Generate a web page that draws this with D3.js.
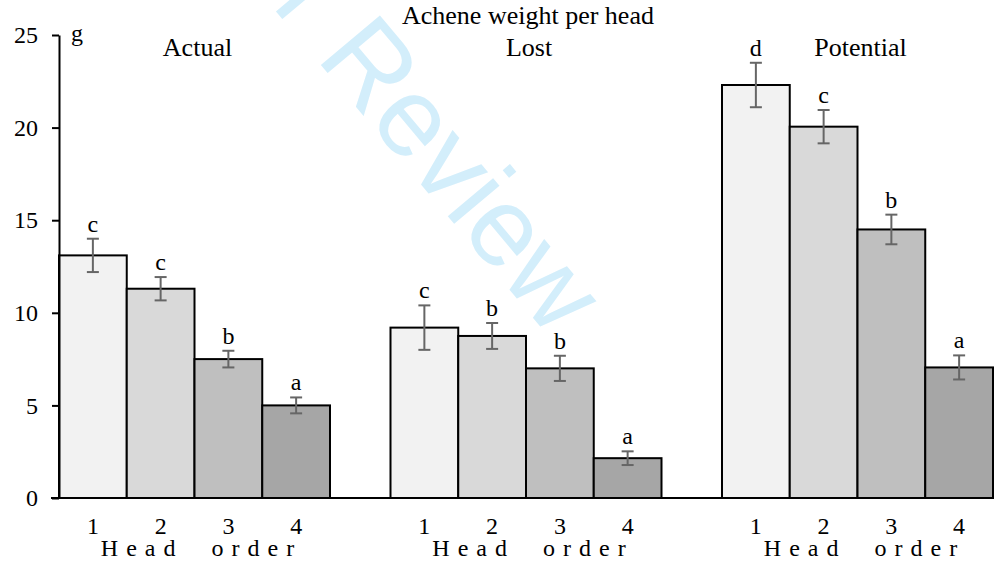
<!DOCTYPE html>
<html>
<head>
<meta charset="utf-8">
<script src="https://cdn.jsdelivr.net/npm/d3@7"></script>
<style>
  html, body { margin: 0; padding: 0; background: #fff; }
  svg { display: block; }
  text { font-family: "Liberation Serif", "Times New Roman", serif; fill: #000; }
</style>
</head>
<body>
<svg id="chart" width="1006" height="567"></svg>
<script>
// ---- data ----
const groups = ["Actual", "Lost", "Potential"];
const headOrders = ["1", "2", "3", "4"];
const actualMeans = [13.1, 11.3, 7.5, 5.0];
const actualErr = [0.9, 0.63, 0.45, 0.43];
const actualLetters = ["c", "c", "b", "a"];
const lostMeans = [9.2, 8.75, 7.0, 2.15];
const lostErr = [1.2, 0.7, 0.68, 0.37];
const lostLetters = ["c", "b", "b", "a"];
const potentialMeans = [22.3, 20.05, 14.5, 7.05];
const potentialErr = [1.2, 0.9, 0.8, 0.65];
const potentialLetters = ["d", "c", "b", "a"];
const yTicks = [0, 5, 10, 15, 20, 25];
const barColors = ["#f2f2f2", "#d9d9d9", "#bfbfbf", "#a6a6a6"];
const chartTitle = "Achene weight per head";
const unitLabel = "g";
const xAxisTitle = "Head  order";

const seriesByGroup = {
  Actual: { means: actualMeans, err: actualErr, letters: actualLetters },
  Lost: { means: lostMeans, err: lostErr, letters: lostLetters },
  Potential: { means: potentialMeans, err: potentialErr, letters: potentialLetters }
};
const rows = [];
groups.forEach(g => {
  const s = seriesByGroup[g];
  headOrders.forEach((h, i) => rows.push({ group: g, order: h, idx: i, mean: s.means[i], err: s.err[i], letter: s.letters[i] }));
});

// ---- layout ----
const svg = d3.select("#chart");
const y = d3.scaleLinear().domain([0, 25]).range([498, 35]);
const x0 = d3.scaleBand().domain(groups).range([59, 993]).paddingInner(0.1825).paddingOuter(0);
const x1 = d3.scaleBand().domain(headOrders).range([0, x0.bandwidth()]).padding(0);

// ---- watermark ----
const wm = svg.append("g").attr("transform", "translate(315,58) rotate(50)");
wm.append("text").attr("x", 0).attr("y", 0)
  .style("font-family", "'Liberation Sans', Arial, sans-serif").style("font-size", "112px")
  .style("fill", "#d3eefb").text("Review");
wm.append("text").attr("x", 0).attr("y", 0).attr("text-anchor", "end")
  .style("white-space", "pre")
  .style("font-family", "'Liberation Sans', Arial, sans-serif").style("font-size", "112px")
  .style("fill", "#d3eefb").text("For Peer ");

// ---- bars ----
const gBars = svg.append("g");
gBars.selectAll("rect").data(rows).join("rect")
  .attr("x", d => x0(d.group) + x1(d.order))
  .attr("y", d => y(d.mean))
  .attr("width", x1.bandwidth())
  .attr("height", d => y(0) - y(d.mean))
  .attr("fill", d => barColors[d.idx])
  .attr("stroke", "#000")
  .attr("stroke-width", 2);

// ---- error bars ----
const cx = d => x0(d.group) + x1(d.order) + x1.bandwidth() / 2;
const gErr = svg.append("g").attr("stroke", "#666").attr("stroke-width", 2);
gErr.selectAll("line.v").data(rows).join("line").attr("class", "v")
  .attr("x1", cx).attr("x2", cx)
  .attr("y1", d => y(d.mean + d.err)).attr("y2", d => y(d.mean - d.err));
gErr.selectAll("line.t").data(rows).join("line").attr("class", "t")
  .attr("x1", d => cx(d) - 6).attr("x2", d => cx(d) + 6)
  .attr("y1", d => y(d.mean + d.err)).attr("y2", d => y(d.mean + d.err));
gErr.selectAll("line.b").data(rows).join("line").attr("class", "b")
  .attr("x1", d => cx(d) - 6).attr("x2", d => cx(d) + 6)
  .attr("y1", d => y(d.mean - d.err)).attr("y2", d => y(d.mean - d.err));

// ---- significance letters ----
svg.append("g").selectAll("text").data(rows).join("text")
  .attr("x", cx).attr("y", d => y(d.mean + d.err) - 7)
  .attr("text-anchor", "middle").style("font-size", "24px")
  .text(d => d.letter);

// ---- y axis ----
const yAxis = d3.axisLeft(y).tickValues(yTicks).tickSize(7).tickSizeOuter(0).tickPadding(14);
const gy = svg.append("g").attr("transform", "translate(59,0)").call(yAxis);
gy.select(".domain").attr("stroke", "#000").attr("stroke-width", 2);
gy.selectAll(".tick line").attr("stroke", "#000").attr("stroke-width", 2);
gy.selectAll(".tick text").style("font-family", "'Liberation Serif', serif").style("font-size", "24px").attr("fill", "#000");

// ---- x baseline ----
svg.append("line").attr("x1", 59 - 8).attr("x2", x0.range()[1])
  .attr("y1", y(0)).attr("y2", y(0)).attr("stroke", "#000").attr("stroke-width", 2);

// ---- head order labels ----
svg.append("g").selectAll("text").data(rows).join("text")
  .attr("x", cx).attr("y", 534).attr("text-anchor", "middle").style("font-size", "24px")
  .text(d => d.order);
svg.append("g").selectAll("text").data(groups).join("text")
  .attr("x", g => x0(g) + x0.bandwidth() / 2 + 7).attr("y", 556)
  .attr("text-anchor", "middle").style("font-size", "24px")
  .style("letter-spacing", "8px").style("white-space", "pre")
  .text(xAxisTitle);

// ---- group labels, title, unit ----
svg.append("g").selectAll("text").data(groups).join("text")
  .attr("x", g => x0(g) + x0.bandwidth() / 2 + 3).attr("y", 56)
  .attr("text-anchor", "middle").style("font-size", "26px")
  .text(g => g);
svg.append("text").attr("x", x0("Lost") + x0.bandwidth() / 2 + 2).attr("y", 24)
  .attr("text-anchor", "middle").style("font-size", "26px").text(chartTitle);
svg.append("text").attr("x", 71).attr("y", 41).style("font-size", "24px").text(unitLabel);
</script>
</body>
</html>
